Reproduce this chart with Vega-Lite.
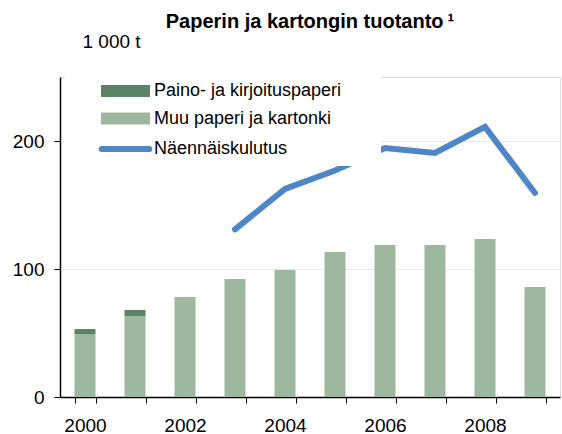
{
  "$schema": "https://vega.github.io/schema/vega-lite/v6.json",
  "width": 500,
  "height": 320,
  "autosize": {"type": "none"},
  "padding": {"left": 60, "top": 77, "right": 2, "bottom": 37},
  "background": "white",
  "config": {"view": {"stroke": "#dcdcdc", "strokeWidth": 1}, "font": "Liberation Sans"},
  "title": {"text": "Paperin ja kartongin tuotanto\u2009¹", "fontSize": 20, "fontWeight": "bold", "font": "Liberation Sans", "color": "black", "anchor": "middle", "baseline": "alphabetic", "offset": -16, "frame": "group"},
  "data": {"values": [
    {"year": "2000", "series": "Muu paperi ja kartonki", "value": 49.2},
    {"year": "2000", "series": "Paino- ja kirjoituspaperi", "value": 3.9},
    {"year": "2001", "series": "Muu paperi ja kartonki", "value": 63.3},
    {"year": "2001", "series": "Paino- ja kirjoituspaperi", "value": 4.7},
    {"year": "2002", "series": "Muu paperi ja kartonki", "value": 78.1},
    {"year": "2003", "series": "Muu paperi ja kartonki", "value": 92.2},
    {"year": "2004", "series": "Muu paperi ja kartonki", "value": 99.2},
    {"year": "2005", "series": "Muu paperi ja kartonki", "value": 113.3},
    {"year": "2006", "series": "Muu paperi ja kartonki", "value": 118.8},
    {"year": "2007", "series": "Muu paperi ja kartonki", "value": 118.8},
    {"year": "2008", "series": "Muu paperi ja kartonki", "value": 123.4},
    {"year": "2009", "series": "Muu paperi ja kartonki", "value": 85.9},
    {"year": "2003", "series": "Näennäiskulutus", "value": 131},
    {"year": "2004", "series": "Näennäiskulutus", "value": 162.5},
    {"year": "2005", "series": "Näennäiskulutus", "value": 177},
    {"year": "2006", "series": "Näennäiskulutus", "value": 194.5},
    {"year": "2007", "series": "Näennäiskulutus", "value": 190.6},
    {"year": "2008", "series": "Näennäiskulutus", "value": 211},
    {"year": "2009", "series": "Näennäiskulutus", "value": 159.4}
  ]},
  "encoding": {
    "y": {"field": "value", "type": "quantitative", "scale": {"domain": [0, 250], "nice": false},
      "axis": {"values": [0, 100, 200], "title": "1 000 t", "titleAngle": 0, "titleX": 22, "titleY": -30, "titleAlign": "left", "titleBaseline": "alphabetic", "titleFontSize": 19, "titleFontWeight": "normal", "titleColor": "black", "titleFont": "Liberation Sans",
        "grid": true, "gridColor": "#e6ebe7", "labelFontSize": 19, "labelFont": "Liberation Sans", "labelPadding": 10, "tickSize": 6, "domainColor": "black", "domainWidth": 1.5, "tickColor": "black", "labelColor": "black"}}
  },
  "layer": [
    {
      "transform": [{"filter": "datum.series !== 'Näennäiskulutus'"}],
      "mark": {"type": "bar"},
      "encoding": {
        "x": {"field": "year", "type": "ordinal", "scale": {"paddingInner": 0.58, "paddingOuter": 0.29},
          "axis": {"title": null, "labelAngle": 0, "labelExpr": "toNumber(datum.value) % 2 === 0 ? datum.value : ''", "labelOverlap": false, "tickBand": "extent", "domainColor": "black", "domainWidth": 1.5, "tickColor": "black", "tickSize": 6, "labelFontSize": 19, "labelFont": "Liberation Sans", "labelColor": "black", "labelPadding": 13, "grid": false}},
        "order": {"field": "series", "sort": "ascending"},
        "color": {"field": "series", "type": "nominal",
          "scale": {"domain": ["Paino- ja kirjoituspaperi", "Muu paperi ja kartonki", "Näennäiskulutus"], "range": ["#5a8565", "#9eb8a0", "#4e86c6"]},
          "legend": {"orient": "none", "legendX": 5, "legendY": 0, "fillColor": "white", "padding": 5, "title": ".", "titleColor": "white", "titleOrient": "right", "titlePadding": 32, "titleFontSize": 10,
            "symbolOffset": 46.5, "labelOffset": 19.5, "symbolSize": 784, "symbolStrokeWidth": 0, "labelFontSize": 18, "labelFont": "Liberation Sans", "labelColor": "black", "rowPadding": 9.5, "labelLimit": 400,
            "encode": {"symbols": {"update": {
              "shape": {"signal": "datum.value === 'Näennäiskulutus' ? 'M-1.7,0H1.7' : 'M-1.75,-0.42H1.75V0.42H-1.75Z'"},
              "stroke": {"signal": "datum.value === 'Näennäiskulutus' ? '#4e86c6' : 'transparent'"},
              "strokeWidth": {"signal": "datum.value === 'Näennäiskulutus' ? 6 : 0"},
              "strokeCap": {"value": "round"},
              "fill": {"signal": "datum.value === 'Näennäiskulutus' ? 'transparent' : (datum.value === 'Paino- ja kirjoituspaperi' ? '#5a8565' : '#9eb8a0')"},
              "opacity": {"value": 1}}}}}}
      }
    },
    {
      "transform": [{"filter": "datum.series === 'Näennäiskulutus'"}],
      "mark": {"type": "line", "strokeWidth": 6, "strokeCap": "round", "strokeJoin": "miter"},
      "encoding": {
        "x": {"field": "year", "type": "ordinal", "scale": {"paddingInner": 0.58, "paddingOuter": 0.29},
          "axis": {"title": null, "labelAngle": 0, "labelExpr": "toNumber(datum.value) % 2 === 0 ? datum.value : ''", "labelOverlap": false, "tickBand": "extent", "domainColor": "black", "domainWidth": 1.5, "tickColor": "black", "tickSize": 6, "labelFontSize": 19, "labelFont": "Liberation Sans", "labelColor": "black", "labelPadding": 13, "grid": false}},
        "color": {"field": "series", "type": "nominal",
          "scale": {"domain": ["Paino- ja kirjoituspaperi", "Muu paperi ja kartonki", "Näennäiskulutus"], "range": ["#5a8565", "#9eb8a0", "#4e86c6"]},
          "legend": {"orient": "none", "legendX": 5, "legendY": 0, "fillColor": "white", "padding": 5, "title": ".", "titleColor": "white", "titleOrient": "right", "titlePadding": 32, "titleFontSize": 10,
            "symbolOffset": 46.5, "labelOffset": 19.5, "symbolSize": 784, "symbolStrokeWidth": 0, "labelFontSize": 18, "labelFont": "Liberation Sans", "labelColor": "black", "rowPadding": 9.5, "labelLimit": 400,
            "encode": {"symbols": {"update": {
              "shape": {"signal": "datum.value === 'Näennäiskulutus' ? 'M-1.7,0H1.7' : 'M-1.75,-0.42H1.75V0.42H-1.75Z'"},
              "stroke": {"signal": "datum.value === 'Näennäiskulutus' ? '#4e86c6' : 'transparent'"},
              "strokeWidth": {"signal": "datum.value === 'Näennäiskulutus' ? 6 : 0"},
              "strokeCap": {"value": "round"},
              "fill": {"signal": "datum.value === 'Näennäiskulutus' ? 'transparent' : (datum.value === 'Paino- ja kirjoituspaperi' ? '#5a8565' : '#9eb8a0')"},
              "opacity": {"value": 1}}}}}}
      }
    },
    {
      "data": {"values": [{"frame": "top"}]},
      "mark": {"type": "rule", "color": "#808080", "strokeWidth": 2},
      "encoding": {"y": {"datum": 250}}
    }
  ]
}
